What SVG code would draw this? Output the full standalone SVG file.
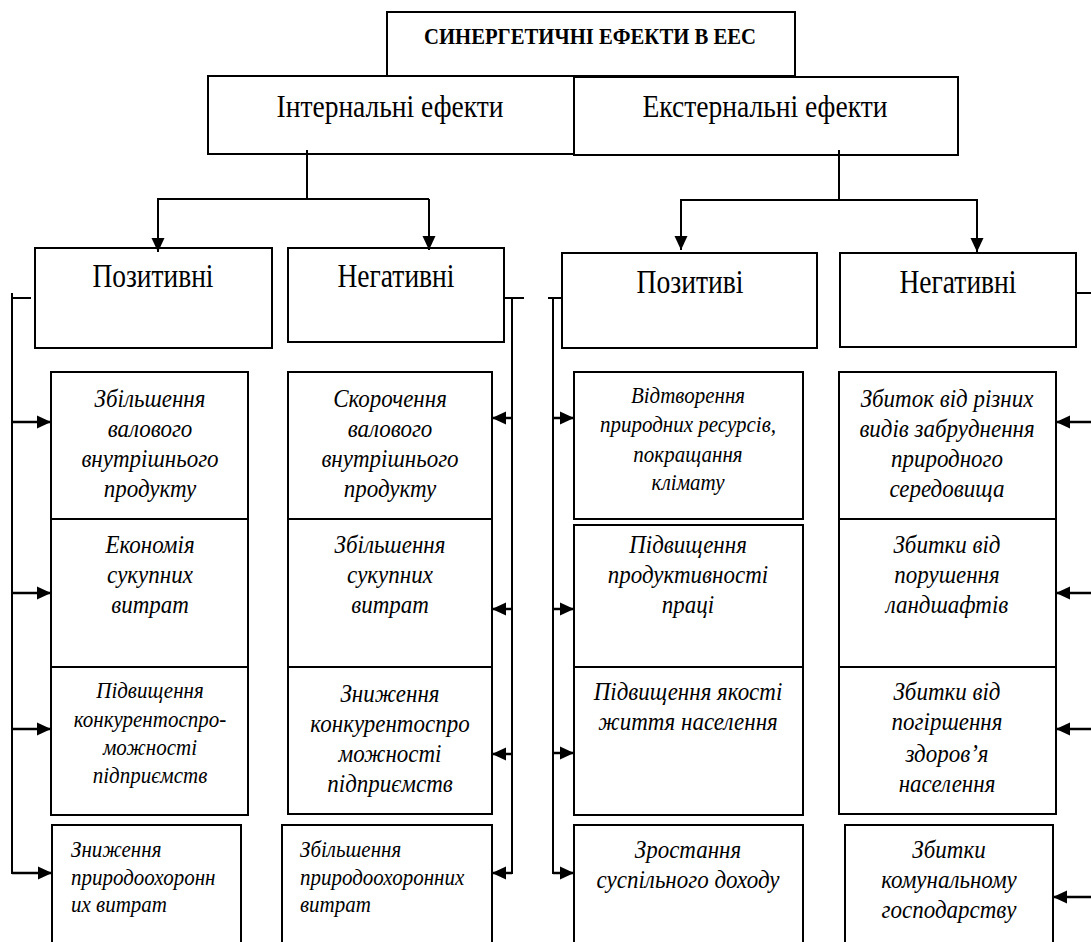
<svg xmlns="http://www.w3.org/2000/svg" width="1091" height="942" viewBox="0 0 1091 942">
  <defs>
    <marker id="arrow" markerUnits="userSpaceOnUse" markerWidth="15" markerHeight="14" refX="14" refY="7" orient="auto">
      <path d="M0,0.5 L14,7 L0,13.5 z" fill="#000"/>
    </marker>
    <style>
      .box { fill: #fff; stroke: #000; stroke-width: 2; }
      .title { font-family: "Liberation Serif", "Times New Roman", serif; font-weight: bold; font-size: 21px; text-anchor: middle; }
      .head { font-family: "Liberation Serif", "Times New Roman", serif; font-size: 29px; text-anchor: middle; }
      .kind { font-family: "Liberation Serif", "Times New Roman", serif; font-size: 30px; text-anchor: middle; }
      .item { font-family: "Liberation Serif", "Times New Roman", serif; font-style: italic; font-size: 23px; text-anchor: middle; }
      .small { font-size: 21px; }
      .left { text-anchor: start; }
      /* the lettering is a little taller than the stock face: stretch it upward from the baseline */
      .title, .head, .kind, .item { transform-box: fill-box; transform-origin: 50% 80%; transform: scaleY(1.1); }
      .conn line { fill: none; stroke: #000; stroke-width: 2; }
      .conn .feed { stroke-width: 2.5; marker-end: url(#arrow); }
      .conn .down { marker-end: url(#arrow); }
    </style>
  </defs>

  <rect width="1091" height="942" style="fill:#fff;stroke:none"/>

  <!-- root -->
  <g id="root">
    <rect class="box" x="387" y="12" width="408" height="64"/>
    <text class="title" x="590" y="44" textLength="332" lengthAdjust="spacingAndGlyphs">СИНЕРГЕТИЧНІ ЕФЕКТИ В ЕЕС</text>
  </g>

  <!-- first level -->
  <g id="internal">
    <rect class="box" x="208" y="76" width="366" height="78"/>
    <text class="head" x="390" y="117" textLength="227" lengthAdjust="spacingAndGlyphs">Інтернальні ефекти</text>
  </g>
  <g id="external">
    <rect class="box" x="574" y="77" width="384" height="78"/>
    <text class="head" x="765" y="117" textLength="245" lengthAdjust="spacingAndGlyphs">Екстернальні ефекти</text>
  </g>

  <!-- second level -->
  <g id="int-positive">
    <rect class="box" x="35" y="248" width="237" height="100"/>
    <text class="kind" x="153" y="287" textLength="121" lengthAdjust="spacingAndGlyphs">Позитивні</text>
  </g>
  <g id="int-negative">
    <rect class="box" x="288" y="248" width="216" height="94"/>
    <text class="kind" x="396" y="287" textLength="117" lengthAdjust="spacingAndGlyphs">Негативні</text>
  </g>
  <g id="ext-positive">
    <rect class="box" x="562" y="253" width="255" height="95"/>
    <text class="kind" x="690" y="293" textLength="107" lengthAdjust="spacingAndGlyphs">Позитиві</text>
  </g>
  <g id="ext-negative">
    <rect class="box" x="840" y="253" width="236" height="94"/>
    <text class="kind" x="958" y="293" textLength="117" lengthAdjust="spacingAndGlyphs">Негативні</text>
  </g>

  <!-- internal positive effects -->
  <g id="ip1">
    <rect class="box" x="51" y="372" width="197" height="147"/>
    <text class="item" x="150" y="407">Збільшення</text>
    <text class="item" x="150" y="437">валового</text>
    <text class="item" x="150" y="467">внутрішнього</text>
    <text class="item" x="150" y="497">продукту</text>
  </g>
  <g id="ip2">
    <rect class="box" x="51" y="519" width="197" height="148"/>
    <text class="item" x="150" y="553">Економія</text>
    <text class="item" x="150" y="583">сукупних</text>
    <text class="item" x="150" y="613">витрат</text>
  </g>
  <g id="ip3">
    <rect class="box" x="51" y="667" width="197" height="148"/>
    <text class="item small" x="150" y="698">Підвищення</text>
    <text class="item small" x="150" y="727">конкурентоспро-</text>
    <text class="item small" x="150" y="755">можності</text>
    <text class="item small" x="150" y="783">підприємств</text>
  </g>
  <g id="ip4">
    <path class="box" d="M52,945 V825 H241 V945"/>
    <text class="item small left" x="71" y="857">Зниження</text>
    <text class="item small left" x="71" y="885">природоохоронн</text>
    <text class="item small left" x="71" y="912">их витрат</text>
  </g>

  <!-- internal negative effects -->
  <g id="in1">
    <rect class="box" x="288" y="372" width="204" height="147"/>
    <text class="item" x="390" y="407">Скорочення</text>
    <text class="item" x="390" y="437">валового</text>
    <text class="item" x="390" y="467">внутрішнього</text>
    <text class="item" x="390" y="497">продукту</text>
  </g>
  <g id="in2">
    <rect class="box" x="288" y="519" width="204" height="148"/>
    <text class="item" x="390" y="553">Збільшення</text>
    <text class="item" x="390" y="583">сукупних</text>
    <text class="item" x="390" y="613">витрат</text>
  </g>
  <g id="in3">
    <rect class="box" x="288" y="667" width="204" height="147"/>
    <text class="item" x="390" y="702">Зниження</text>
    <text class="item" x="390" y="732">конкурентоспро</text>
    <text class="item" x="390" y="762">можності</text>
    <text class="item" x="390" y="792">підприємств</text>
  </g>
  <g id="in4">
    <path class="box" d="M282,945 V825 H492 V945"/>
    <text class="item small left" x="300" y="857">Збільшення</text>
    <text class="item small left" x="300" y="885">природоохоронних</text>
    <text class="item small left" x="300" y="912">витрат</text>
  </g>

  <!-- external positive effects -->
  <g id="ep1">
    <rect class="box" x="574" y="372" width="229" height="147"/>
    <text class="item small" x="688" y="403">Відтворення</text>
    <text class="item small" x="688" y="432">природних ресурсів,</text>
    <text class="item small" x="688" y="462">покращання</text>
    <text class="item small" x="688" y="490">клімату</text>
  </g>
  <g id="ep2">
    <rect class="box" x="574" y="525" width="229" height="142"/>
    <text class="item" x="688" y="553">Підвищення</text>
    <text class="item" x="688" y="583">продуктивності</text>
    <text class="item" x="688" y="613">праці</text>
  </g>
  <g id="ep3">
    <rect class="box" x="574" y="667" width="229" height="148"/>
    <text class="item" x="688" y="700">Підвищення якості</text>
    <text class="item" x="688" y="730">життя населення</text>
  </g>
  <g id="ep4">
    <path class="box" d="M574,945 V825 H803 V945"/>
    <text class="item" x="688" y="858">Зростання</text>
    <text class="item" x="688" y="888">суспільного доходу</text>
  </g>

  <!-- external negative effects -->
  <g id="en1">
    <rect class="box" x="839" y="372" width="217" height="147"/>
    <text class="item" x="947" y="407">Збиток від різних</text>
    <text class="item" x="947" y="437">видів забруднення</text>
    <text class="item" x="947" y="467">природного</text>
    <text class="item" x="947" y="497">середовища</text>
  </g>
  <g id="en2">
    <rect class="box" x="839" y="519" width="217" height="148"/>
    <text class="item" x="947" y="553">Збитки від</text>
    <text class="item" x="947" y="583">порушення</text>
    <text class="item" x="947" y="613">ландшафтів</text>
  </g>
  <g id="en3">
    <rect class="box" x="839" y="667" width="217" height="147"/>
    <text class="item" x="947" y="700">Збитки від</text>
    <text class="item" x="947" y="730">погіршення</text>
    <text class="item" x="947" y="762">здоров’я</text>
    <text class="item" x="947" y="792">населення</text>
  </g>
  <g id="en4">
    <path class="box" d="M845,945 V825 H1053 V945"/>
    <text class="item" x="949" y="858">Збитки</text>
    <text class="item" x="949" y="888">комунальному</text>
    <text class="item" x="949" y="918">господарству</text>
  </g>

  <!-- connectors -->
  <g id="connectors" class="conn">
    <!-- internal split -->
    <line x1="307" y1="150" x2="307" y2="199"/>
    <line x1="157" y1="199" x2="429" y2="199"/>
    <line class="down" x1="158" y1="199" x2="158" y2="252"/>
    <line class="down" x1="429" y1="199" x2="429" y2="250"/>

    <!-- external split -->
    <line x1="839" y1="150" x2="839" y2="200"/>
    <line x1="680" y1="200" x2="978" y2="200"/>
    <line class="down" x1="681" y1="200" x2="681" y2="250"/>
    <line class="down" x1="977" y1="200" x2="977" y2="252"/>

    <!-- left bus: internal positive -->
    <line x1="12" y1="293" x2="12" y2="874"/>
    <line x1="12" y1="298" x2="31" y2="298"/>
    <line class="feed" x1="12" y1="422" x2="51" y2="422"/>
    <line class="feed" x1="12" y1="593" x2="51" y2="593"/>
    <line class="feed" x1="12" y1="729" x2="51" y2="729"/>
    <line class="feed" x1="12" y1="873" x2="52" y2="873"/>

    <!-- right bus: internal negative -->
    <line x1="504" y1="298" x2="524" y2="298"/>
    <line x1="512" y1="298" x2="512" y2="874"/>
    <line class="feed" x1="512" y1="418" x2="492" y2="418"/>
    <line class="feed" x1="512" y1="609" x2="492" y2="609"/>
    <line class="feed" x1="512" y1="754" x2="492" y2="754"/>
    <line class="feed" x1="512" y1="873" x2="492" y2="873"/>

    <!-- left bus: external positive -->
    <line x1="548" y1="298" x2="562" y2="298"/>
    <line x1="553" y1="297" x2="553" y2="874"/>
    <line class="feed" x1="553" y1="418" x2="574" y2="418"/>
    <line class="feed" x1="553" y1="609" x2="574" y2="609"/>
    <line class="feed" x1="553" y1="753" x2="574" y2="753"/>
    <line class="feed" x1="553" y1="873" x2="574" y2="873"/>

    <!-- right feeds: external negative -->
    <line x1="1076" y1="293" x2="1091" y2="293"/>
    <line class="feed" x1="1091" y1="422" x2="1056" y2="422"/>
    <line class="feed" x1="1091" y1="593" x2="1056" y2="593"/>
    <line class="feed" x1="1091" y1="729" x2="1056" y2="729"/>
    <line class="feed" x1="1091" y1="897" x2="1053" y2="897"/>
  </g>
</svg>
